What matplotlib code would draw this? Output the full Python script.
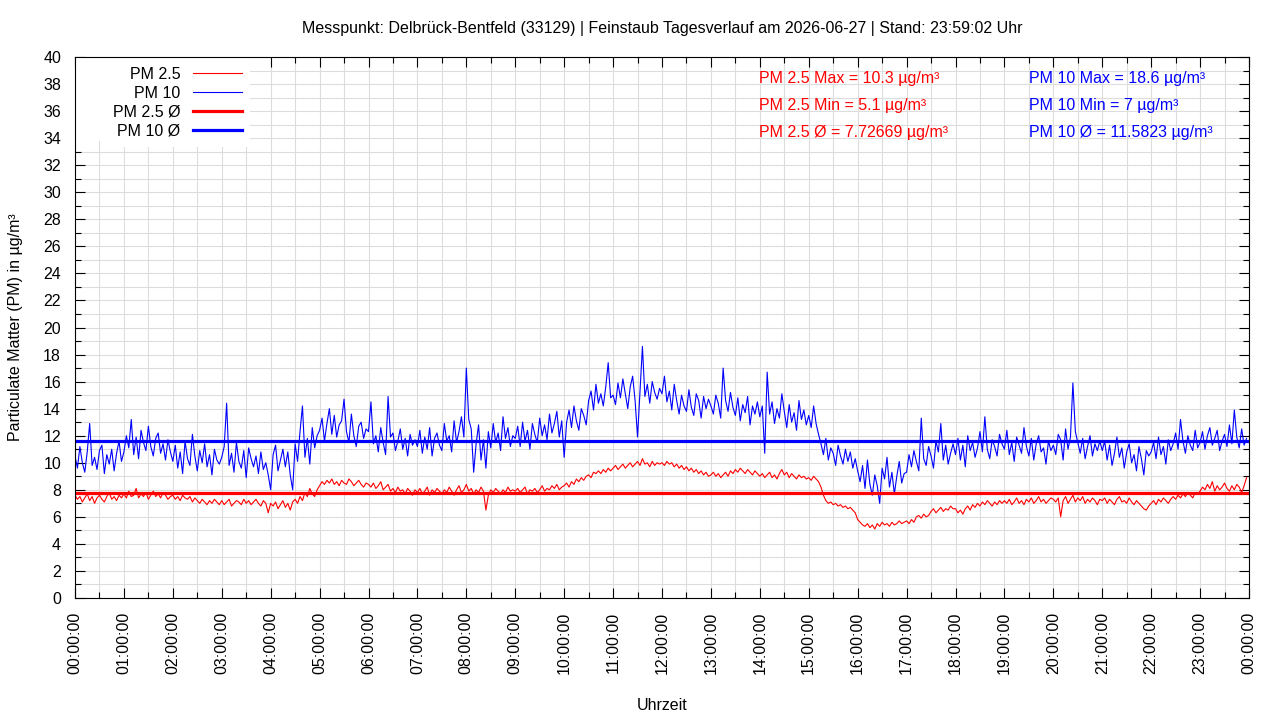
import numpy as np
import matplotlib
matplotlib.use("Agg")
import matplotlib.pyplot as plt
from matplotlib.ticker import MultipleLocator, FuncFormatter
from matplotlib.lines import Line2D
from matplotlib.patches import Rectangle

title_text = "Messpunkt: Delbrück-Bentfeld (33129) | Feinstaub Tagesverlauf am 2026-06-27 | Stand: 23:59:02 Uhr"
x_label = "Uhrzeit"
y_label = "Particulate Matter (PM) in µg/m³"
legend_labels = ["PM 2.5", "PM 10", "PM 2.5 Ø", "PM 10 Ø"]
sample_minutes = 3

# PM 2.5, one value every 3 minutes (20 per hour)
pm25_values = [
    7.6, 7.3, 7.5, 7.1, 7.4, 7.7, 7.2, 7.5, 7.0, 7.4, 7.6, 7.3, 7.1, 7.5, 7.8, 7.3, 7.5, 7.2, 7.6, 7.4,
    7.7, 7.4, 7.9, 7.5, 7.6, 8.1, 7.4, 7.7, 7.5, 7.8, 7.3, 7.6, 7.9, 7.5, 7.7, 7.4, 7.8, 7.6, 7.3, 7.5,
    7.6, 7.3, 7.5, 7.2, 7.6, 7.4, 7.3, 7.5, 7.1, 7.4, 7.2, 7.0, 7.3, 7.1, 6.9, 7.2, 7.0, 7.3, 7.1, 6.9,
    7.2, 6.9, 7.1, 7.3, 6.8, 7.0, 7.2, 7.1, 6.9, 7.3, 7.0, 7.2, 6.9, 7.1, 7.3, 7.0, 6.8, 7.2, 7.0, 6.3,
    7.0, 6.8, 7.1, 6.6, 6.9, 7.2, 6.7, 7.0, 6.5, 7.1, 7.3, 7.0, 7.5, 7.2, 7.8, 7.5, 8.1, 7.7, 7.5, 8.0,
    8.3, 8.6, 8.4, 8.7, 8.5, 8.8, 8.4, 8.6, 8.3, 8.7, 8.5, 8.4, 8.8, 8.6, 8.3, 8.5, 8.7, 8.4, 8.2, 8.5,
    8.4, 8.2, 8.5, 8.1, 8.3, 8.6, 8.0, 8.2, 8.4, 7.9, 8.1, 7.8, 8.2, 7.9, 8.0, 7.7, 8.1, 7.9, 7.6, 8.0,
    7.8, 8.1, 7.7, 7.9, 8.2, 7.6, 8.0, 7.8, 8.1, 7.9, 7.7, 8.0, 7.8, 8.2, 7.9, 7.6, 8.0, 8.3, 7.8, 8.0,
    8.4, 7.9, 8.1, 7.7, 8.0, 7.8, 8.2, 7.9, 6.5, 7.6, 8.0, 7.8, 8.1, 7.9, 7.7, 8.0, 7.8, 8.2, 7.9, 8.0,
    7.9, 8.1, 7.8, 8.0, 8.2, 7.7, 8.0, 7.9, 8.1, 7.8, 8.0, 8.3, 7.9, 8.1, 8.0, 8.3, 8.1, 8.4, 8.0, 8.2,
    8.3, 8.5, 8.2, 8.6, 8.4, 8.8, 8.6, 8.9, 8.7, 9.0, 9.1, 8.9, 9.3, 9.2, 9.4, 9.2, 9.5, 9.3, 9.6, 9.4,
    9.6, 9.8, 9.5, 9.7, 9.9, 9.6, 9.8, 10.0, 9.7, 9.9, 10.1, 9.8, 10.3, 9.9, 10.0, 9.7, 10.1, 9.8, 10.0, 9.9,
    10.0, 9.8, 10.1, 9.9, 10.0, 9.7, 9.9, 9.6, 9.8, 9.5, 9.7, 9.4, 9.6, 9.3, 9.5, 9.2, 9.4, 9.1, 9.3, 9.0,
    9.1, 9.3, 9.0, 9.2, 8.9, 9.1, 9.3, 9.0, 9.4, 9.2, 9.5, 9.3, 9.6, 9.4, 9.2, 9.5, 9.3, 9.1, 9.4, 9.2,
    9.0, 9.2, 8.9, 9.1, 9.3, 8.9, 9.1, 8.8, 9.2, 9.5, 9.1, 9.3, 8.9, 9.2, 9.0, 8.8, 9.1, 8.9, 9.0, 8.8,
    8.9, 8.7, 9.0, 8.8, 8.6, 8.2, 7.6, 7.2, 7.0, 7.1, 6.9, 7.0, 6.8, 6.9, 6.7, 6.8, 6.6, 6.7, 6.5, 6.3,
    5.8, 5.6, 5.4, 5.3, 5.5, 5.2, 5.4, 5.1, 5.5, 5.3, 5.6, 5.4, 5.5, 5.3, 5.6, 5.4, 5.5, 5.7, 5.5, 5.6,
    5.7, 5.5, 5.8, 5.6, 6.0, 6.1, 5.9, 6.2, 6.0, 6.1, 6.4, 6.6, 6.3, 6.5, 6.7, 6.4, 6.6, 6.5, 6.8, 6.6,
    6.6, 6.3, 6.5, 6.2, 6.6, 6.8, 6.5, 6.9, 6.7, 7.0, 6.8, 7.1, 6.9, 7.2, 7.0, 6.8, 7.1, 6.9, 7.2, 7.0,
    7.2, 7.0, 7.3, 6.9, 7.1, 7.4, 7.0, 7.2, 6.9, 7.3, 7.1, 7.4, 7.0, 7.2, 7.5, 7.1, 7.3, 7.0, 7.2, 7.4,
    7.3, 7.1, 7.4, 6.0, 7.2, 7.5, 7.0, 7.3, 7.6, 7.1, 7.4, 7.2, 7.5, 7.0, 7.3, 7.1, 7.4, 7.2, 6.9, 7.3,
    7.2, 7.4, 7.0, 7.3, 7.1, 6.9, 7.3, 7.5, 7.1, 7.2, 7.0, 7.4, 7.1, 6.9, 7.2, 7.0, 6.8, 6.6, 6.5, 6.8,
    7.0, 7.2, 6.9, 7.3, 7.1, 7.4, 7.2, 7.0, 7.3, 7.5, 7.3, 7.6, 7.4, 7.7, 7.5, 7.8, 7.6, 7.4, 7.8, 7.7,
    7.9, 8.2, 8.0, 8.4, 8.1, 8.6, 7.9, 8.3, 8.0, 8.2, 8.5, 8.1, 7.9, 8.3, 8.0, 8.4, 8.2, 7.8, 8.3, 8.9,
]

# PM 10, one value every 3 minutes (20 per hour)
pm10_values = [
    10.5, 9.6, 11.2, 10.0, 9.3, 10.8, 12.9, 9.8, 10.4, 9.5, 10.9, 11.3, 9.2, 10.6, 9.9, 11.0, 9.4, 10.7, 11.6, 10.1,
    10.8, 12.0, 11.1, 13.2, 10.6, 11.9, 10.3, 12.4, 11.5, 10.9, 12.7, 11.2, 10.5, 11.8, 12.2, 10.7, 11.4, 10.2, 11.7, 10.8,
    10.1, 11.3, 9.6, 10.8, 9.2, 11.6, 10.3, 9.8, 12.1, 10.5, 9.4, 10.9, 10.0, 11.4, 9.7, 10.6, 9.1, 11.0, 10.2, 9.9,
    10.4, 11.2, 14.4, 9.8, 10.7, 9.3, 11.5, 10.1, 9.6, 10.9, 8.9, 11.1, 10.3, 9.7, 10.5, 9.2, 10.8, 9.5, 10.0, 9.1,
    8.0, 10.6, 11.3, 9.4, 10.2, 11.0, 9.7, 10.8, 9.1, 8.0, 11.4, 10.1, 12.3, 14.2, 10.4, 11.8, 9.9, 12.6, 11.1, 12.0,
    12.4, 13.3, 11.6, 12.9, 14.0, 12.1, 13.5, 11.9, 12.8, 13.1, 14.7, 12.3, 11.5, 13.6, 12.0, 11.2, 12.7, 13.0, 11.8, 12.5,
    12.3, 14.5, 11.4, 12.0, 10.8, 12.6, 11.5, 10.6, 14.9, 11.9, 12.2, 10.9, 11.6, 12.5, 11.0, 11.8, 10.5, 12.1, 11.3, 11.7,
    11.2, 12.4, 10.7, 11.9, 11.0, 12.6, 10.5, 11.8, 12.2, 11.3, 10.9, 12.9, 11.6, 12.0, 10.8, 13.1, 11.5, 12.3, 13.4, 11.9,
    17.0, 13.2, 12.5, 9.3, 11.4, 12.8, 10.2, 11.7, 9.6, 12.3, 11.1, 12.9, 11.5, 12.2, 10.9, 13.4, 11.8, 12.6, 11.2, 12.0,
    11.8, 12.7, 11.2, 13.0, 11.6, 12.4, 11.0, 12.9, 12.1, 11.5, 13.3, 12.0, 12.8, 11.7, 13.6, 12.2, 12.9, 13.8, 11.9, 13.1,
    10.4, 13.0, 13.9, 12.6, 14.2, 13.1, 12.4, 14.0, 13.5, 12.8, 14.6, 15.3, 13.9, 15.8, 14.4, 15.1, 14.2, 15.6, 17.4, 14.8,
    15.0, 14.3, 15.9, 14.8, 16.2, 15.1, 14.0, 15.6, 16.4, 14.6, 11.9, 15.3, 18.6, 14.9, 15.8, 14.4, 16.0, 15.2, 14.7, 15.5,
    15.1, 16.4, 14.5, 15.3, 13.9, 15.8, 14.6, 13.6, 15.0, 14.2, 13.8, 15.4, 14.1, 13.5, 15.1, 14.6, 13.3, 14.9, 14.0, 14.7,
    14.2, 13.6, 15.0, 14.4, 13.3, 17.0, 14.6, 13.8, 15.2, 14.1, 13.5, 14.8, 13.1, 14.3, 13.7, 14.9, 12.8, 14.2, 13.6, 14.5,
    13.4, 14.2, 10.7, 16.7, 13.6, 14.5, 12.9, 14.0, 13.3, 15.1, 13.8, 12.6, 14.3, 13.0, 13.7, 12.4, 14.6, 13.2, 13.9, 12.8,
    13.5, 12.6, 14.2, 12.9, 12.1, 11.4, 10.6, 11.8, 10.2, 11.1, 10.7, 9.8, 11.3, 10.5, 9.9, 11.0, 10.1, 10.8, 9.6, 10.3,
    9.4, 8.6, 9.8, 8.1, 10.2, 8.4, 7.6, 9.1, 8.3, 7.0, 9.6, 8.8, 10.4, 8.2, 9.3, 7.7, 9.0, 10.1, 8.5, 9.2,
    9.3, 10.6, 9.7, 10.9, 10.1, 9.4, 13.3, 10.3, 9.8, 11.2, 10.5, 9.6, 11.6, 10.8, 12.9, 10.2, 11.3, 9.9, 10.7, 11.4,
    10.6, 11.8, 10.2, 11.3, 9.7, 12.0, 10.9, 11.5, 10.4, 11.1, 12.3, 10.8, 13.4, 11.0, 10.3, 11.7, 11.2, 10.5, 12.1, 11.4,
    11.0, 12.4, 10.6, 11.5, 10.1, 11.9, 11.3, 10.7, 12.6, 11.2, 10.5, 11.8, 10.2, 11.4, 12.0, 10.8, 11.1, 9.9, 11.6, 10.9,
    11.3, 10.6, 12.1, 11.7, 10.2, 12.5, 11.0, 11.9, 15.9, 12.3, 11.5, 10.7, 11.8, 10.3, 11.2, 12.0, 10.5, 11.4, 10.9, 11.6,
    10.9, 11.6, 10.2, 11.3, 9.8, 10.7, 11.9, 10.4, 11.1, 9.6, 10.8, 11.4, 10.0, 10.6, 9.4, 11.2, 10.3, 9.1, 10.9, 10.5,
    10.8, 11.5, 10.3, 11.9, 10.6, 11.2, 9.9, 11.7, 10.9, 11.4, 12.2, 11.0, 13.2, 11.6, 10.7, 12.0, 11.3, 10.9, 12.4, 11.1,
    11.5, 12.3, 11.0, 12.0, 12.6, 11.3, 11.8, 12.4, 10.9, 11.6, 12.1, 11.2, 12.8, 11.4, 13.9, 11.9, 11.1, 12.5, 11.3, 11.8,
]

pm25_max, pm25_min, pm25_avg = 10.3, 5.1, 7.72669
pm10_max, pm10_min, pm10_avg = 18.6, 7, 11.5823

red = "#ff0000"
blue = "#0000ff"

plt.rcParams["font.family"] = ["Liberation Sans", "DejaVu Sans"]
plt.rcParams["font.size"] = 11.5

fig = plt.figure(figsize=(12.8, 7.2), dpi=100)
ax = fig.add_axes([75 / 1280, 1 - 598 / 720, (1249 - 75) / 1280, (598 - 57) / 720])

hours = np.arange(len(pm25_values)) * sample_minutes / 60.0

ax.plot(hours, pm25_values, color=red, lw=0.8, zorder=3)
ax.plot(hours, pm10_values, color=blue, lw=0.8, zorder=3)
ax.axhline(pm25_avg, color=red, lw=2.3, zorder=4)
ax.axhline(pm10_avg, color=blue, lw=2.3, zorder=4)

ax.set_xlim(0, 24)
ax.set_ylim(0, 40)
ax.xaxis.set_major_locator(MultipleLocator(1))
ax.xaxis.set_minor_locator(MultipleLocator(0.5))
ax.yaxis.set_major_locator(MultipleLocator(2))
ax.yaxis.set_minor_locator(MultipleLocator(1))
ax.xaxis.set_major_formatter(FuncFormatter(lambda v, p: f"{int(round(v)) % 24:02d}:00:00"))
ax.yaxis.set_major_formatter(FuncFormatter(lambda v, p: f"{v:g}"))
ax.tick_params(axis="x", which="major", labelrotation=90)
ax.tick_params(which="both", direction="in", top=True, right=True, width=0.8, colors="black")
ax.tick_params(which="major", length=7, pad=10)
ax.tick_params(which="minor", length=4)

ax.set_axisbelow(True)
ax.grid(which="both", color="#dddddd", lw=0.8)
for s in ax.spines.values():
    s.set_linewidth(0.8)
    s.set_zorder(7)

ax.set_xlabel(x_label)
ax.set_ylabel(y_label)
ax.xaxis.set_label_coords(0.5, (598 - 698) / 541)
ax.yaxis.set_label_coords((23 - 75) / 1174, 0.5)

fig.text(662 / 1280, 1 - 28 / 720, title_text, ha="center", va="center", fontsize=11.5)

# white key area (gnuplot key box without border)
legend_right = (250 - 75) / 1174
legend_bottom = (598 - 141) / 541
ax.add_patch(Rectangle((0, legend_bottom), legend_right, 1 - legend_bottom,
                       transform=ax.transAxes, facecolor="white", edgecolor="none", zorder=2.5))

handles = [
    Line2D([], [], color=red, lw=0.8),
    Line2D([], [], color=blue, lw=0.8),
    Line2D([], [], color=red, lw=2.3),
    Line2D([], [], color=blue, lw=2.3),
]
leg = ax.legend(handles, legend_labels, loc="upper right", bbox_to_anchor=(legend_right, 1 - 2 / 541),
                markerfirst=False, frameon=True, fancybox=False, facecolor="white",
                edgecolor="none", framealpha=1, handlelength=3.1, handletextpad=0.75,
                labelspacing=0.25, borderpad=0.5, borderaxespad=0, fontsize=11.5)
leg.set_zorder(5)

stats_red = [f"PM 2.5 Max = {pm25_max:g} µg/m³", f"PM 2.5 Min = {pm25_min:g} µg/m³",
             f"PM 2.5 Ø = {pm25_avg:g} µg/m³"]
stats_blue = [f"PM 10 Max = {pm10_max:g} µg/m³", f"PM 10 Min = {pm10_min:g} µg/m³",
              f"PM 10 Ø = {pm10_avg:g} µg/m³"]
row_y = [(598 - 79) / 541, (598 - 105.5) / 541, (598 - 133) / 541]
for t, yy in zip(stats_red, row_y):
    ax.text((759 - 75) / 1174, yy, t, transform=ax.transAxes, color=red, ha="left", va="center", zorder=6)
for t, yy in zip(stats_blue, row_y):
    ax.text((1029 - 75) / 1174, yy, t, transform=ax.transAxes, color=blue, ha="left", va="center", zorder=6)

fig.savefig("out.png", dpi=100)
